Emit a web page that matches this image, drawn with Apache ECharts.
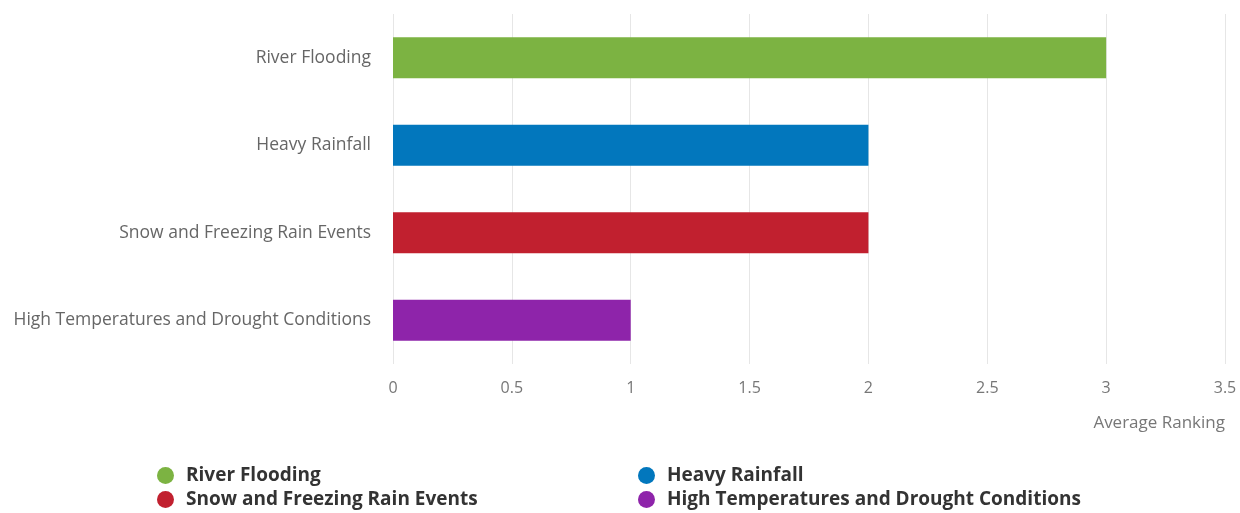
<!DOCTYPE html>
<html>
<head>
<meta charset="utf-8">
<script src="https://cdn.jsdelivr.net/npm/echarts@6/dist/echarts.min.js"></script>
<style>
  html, body { margin: 0; padding: 0; background: #fff; }
  #chart { width: 1240px; height: 513px; }
</style>
</head>
<body>
<div id="chart"></div>
<script>
// Hazard categories, top to bottom
const categories = [
  'River Flooding',
  'Heavy Rainfall',
  'Snow and Freezing Rain Events',
  'High Temperatures and Drought Conditions'
];
// Average ranking for each hazard
const rankings = [3, 2, 2, 1];
const colors = ['#7cb342', '#0277bd', '#c1202f', '#8e24aa'];
const axisTitle = 'Average Ranking';

const FONT = '"Open Sans", "Noto Sans", sans-serif';

// One series per hazard so each gets its own legend entry; stacking keeps
// every bar centred in its own category band.
const series = categories.map((name, i) => ({
  name: name,
  type: 'bar',
  stack: 'rank',
  barWidth: '47%',
  itemStyle: { color: colors[i] },
  data: categories.map((c, j) => (j === i ? rankings[i] : '-'))
}));

// Legend laid out as a 2x2 grid: one single-entry legend per cell
const legendCols = [152, 633];
const legendRows = [461, 485];
const legends = categories.map((name, i) => ({
  orient: 'horizontal',
  left: legendCols[i % 2],
  top: legendRows[Math.floor(i / 2)],
  icon: 'circle',
  itemWidth: 17,
  itemHeight: 17,
  data: [name],
  textStyle: {
    fontFamily: FONT, fontSize: 19, fontWeight: 'bold', color: '#333',
    padding: [0, 0, 0, 7]
  }
}));

const chart = echarts.init(document.getElementById('chart'), null, { renderer: 'canvas' });
chart.setOption({
  animation: false,
  textStyle: { fontFamily: FONT },
  grid: { left: 393, right: 15, top: 14, bottom: 149, containLabel: false },
  xAxis: {
    type: 'value',
    min: 0,
    max: 3.5,
    interval: 0.5,
    name: axisTitle,
    nameLocation: 'end',
    nameGap: 0,
    nameTextStyle: {
      fontFamily: FONT, fontSize: 17, color: '#777',
      align: 'right', verticalAlign: 'top', padding: [51, 0, 0, 0]
    },
    axisLine: { show: false },
    axisTick: { show: false },
    axisLabel: { fontFamily: FONT, fontSize: 16, color: '#777', margin: 16 },
    splitLine: { lineStyle: { color: '#e6e6e6', width: 1 } }
  },
  yAxis: {
    type: 'category',
    inverse: true,
    data: categories,
    axisLine: { show: false },
    axisTick: { show: false },
    axisLabel: { fontFamily: FONT, fontSize: 17.5, color: '#666', margin: 22 }
  },
  legend: legends,
  series: series
});
</script>
</body>
</html>
